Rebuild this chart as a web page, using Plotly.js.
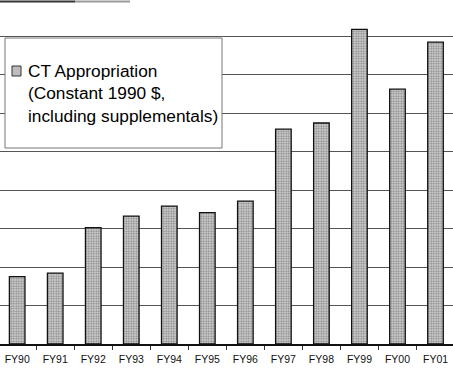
<!DOCTYPE html>
<html>
<head>
<meta charset="utf-8">
<script src="https://cdn.plot.ly/plotly-3.0.1.min.js"></script>
<style>html,body{margin:0;padding:0;background:#fff;}#chart{width:453px;height:371px;}</style>
</head>
<body>
<div id="chart"></div>
<script>
var categories = ["FY90","FY91","FY92","FY93","FY94","FY95","FY96","FY97","FY98","FY99","FY00","FY01"];
var appropriation = [17.5, 18.4, 30.2, 33.2, 35.8, 34.1, 37.1, 55.8, 57.4, 81.7, 66.2, 78.4];
var seriesName = "CT Appropriation<br>(Constant 1990 $,<br>including supplementals)";

var trace = {
  type: "bar",
  x: categories,
  y: appropriation,
  name: seriesName,
  marker: {
    color: "#d0d0d0",
    line: {color: "#111", width: 1.3},
    pattern: {shape: ".", bgcolor: "#dedede", fgcolor: "#8a8a8a", size: 2.5, solidity: 0.5}
  },
  hoverinfo: "skip"
};

var layout = {
  width: 453, height: 371,
  margin: {l: 0, r: 0, t: 0, b: 27, pad: 0},
  paper_bgcolor: "#fff", plot_bgcolor: "#fff",
  showlegend: false,
  bargap: 0.59,
  font: {family: "Liberation Sans, Arial, sans-serif", color: "#000"},
  xaxis: {
    type: "category",
    range: [-0.452, 11.46],
    showline: true, linecolor: "#111", linewidth: 1.5,
    ticks: "outside", tickson: "boundaries", ticklen: 4, tickcolor: "#333", tickwidth: 1,
    ticklabelstandoff: 5,
    tickfont: {size: 10.5, color: "#111"},
    showgrid: false, zeroline: false
  },
  yaxis: {
    range: [0, 89.35],
    dtick: 10,
    showticklabels: false,
    showgrid: true, gridcolor: "#555", gridwidth: 1,
    zeroline: false, showline: false, ticks: ""
  },
  shapes: [
    {type: "line", xref: "paper", yref: "paper", x0: 0, x1: 75/453, y0: (344-1.5)/344, y1: (344-1.5)/344, line: {color: "#333", width: 2}},
    {type: "line", xref: "paper", yref: "paper", x0: 75/453, x1: 130/453, y0: (344-1.5)/344, y1: (344-1.5)/344, line: {color: "#999", width: 2}},
    {type: "rect", xref: "paper", yref: "paper", layer: "above", x0: 5/453, x1: 222/453, y0: (344-148)/344, y1: (344-38)/344, fillcolor: "#fff", line: {color: "#777", width: 1}},
    {type: "rect", xref: "paper", yref: "paper", layer: "above", x0: 12/453, x1: 21/453, y0: (344-76)/344, y1: (344-66)/344, fillcolor: "#bdbdbd", line: {color: "#333", width: 1}}
  ],
  annotations: [
    {xref: "paper", yref: "paper", x: 26/453, y: (344-93.5)/344, xanchor: "left", yanchor: "middle", align: "left", showarrow: false,
     text: seriesName, font: {size: 17.3, color: "#000", family: "Liberation Sans, Arial, sans-serif"}}
  ]
};

Plotly.newPlot("chart", [trace], layout, {staticPlot: true, displayModeBar: false});
</script>
</body>
</html>
